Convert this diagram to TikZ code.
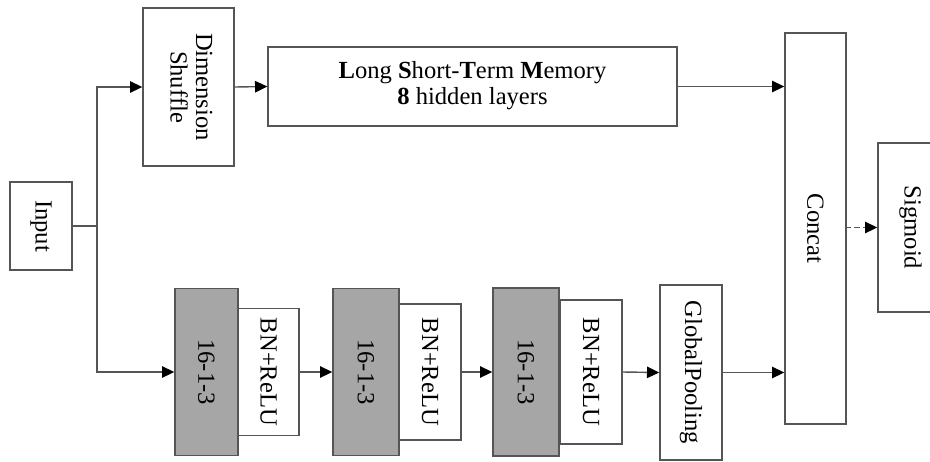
\documentclass[tikz,border=0pt]{standalone}
\usepackage{fontspec}
\setmainfont{Liberation Serif}
\usetikzlibrary{arrows.meta}

\definecolor{linegray}{HTML}{555555}
\definecolor{convgray}{HTML}{A6A6A6}

\begin{document}
\begin{tikzpicture}[x=0.02cm, y=-0.02cm,
		box/.style={draw=linegray, line width=0.8pt, fill=white, inner sep=0pt,
			font=\fontsize{14}{14.5}\selectfont},
		conv/.style={box, fill=convgray},
		arr/.style={draw=linegray, line width=0.8pt, -{Triangle[length=7pt, width=6.5pt, color=black]}}]
		\clip ( 0, 0 ) rectangle ( 930, 461 );

		% вход и перестановка осей
		\node [box, minimum width=1.24cm, minimum height=1.76cm] (in) at ( 41, 226 ) {\rotatebox{-90}{Input}};
		\node [box, minimum width=1.82cm, minimum height=3.16cm] (dim) at ( 188.5, 87 ) {\rotatebox{-90}{\begin{tabular}{c}Dimension\\Shuffle\end{tabular}}};
		\coordinate (split) at ( 97, 226 );

		% ветвь LSTM
		\node [box, minimum width=8.18cm, minimum height=1.58cm] (lstm) at ( 472.5, 86.5 ) {\begin{tabular}{c}\textbf{L}ong \textbf{S}hort-\textbf{T}erm \textbf{M}emory\\\textbf{8} hidden layers\end{tabular}};

		% свёрточная ветвь
		\node [conv, minimum width=1.26cm, minimum height=3.34cm] (c1) at ( 206.5, 372 ) {\rotatebox{-90}{16-1-3}};
		\node [box, minimum width=1.22cm, minimum height=2.54cm] (bn1) at ( 268.5, 372 ) {\rotatebox{-90}{BN+ReLU}};
		\node [conv, minimum width=1.32cm, minimum height=3.34cm] (c2) at ( 366, 372 ) {\rotatebox{-90}{16-1-3}};
		\node [box, minimum width=1.24cm, minimum height=2.72cm] (bn2) at ( 430, 372 ) {\rotatebox{-90}{BN+ReLU}};
		\node [conv, minimum width=1.32cm, minimum height=3.36cm] (c3) at ( 526, 372 ) {\rotatebox{-90}{16-1-3}};
		\node [box, minimum width=1.24cm, minimum height=2.88cm] (bn3) at ( 591, 372 ) {\rotatebox{-90}{BN+ReLU}};
		\node [box, minimum width=1.24cm, minimum height=3.5cm] (gp) at ( 691, 372.5 ) {\rotatebox{-90}{GlobalPooling}};

		% объединение и выход
		\node [box, minimum width=1.22cm, minimum height=7.82cm] (cc) at ( 815.5, 228.5 ) {\rotatebox{-90}{Concat}};
		\node [box, minimum width=1.3cm, minimum height=3.38cm] (sg) at ( 910.5, 227.5 ) {\rotatebox{-90}{Sigmoid}};

		% связи
		\draw [draw=linegray, line width=0.8pt] (in.east) -- (split);
		\draw [arr] (split) |- (dim.west);
		\draw [arr] (split) |- (c1.west);
		\draw [arr] (dim.east) -- (lstm.west);
		\draw [arr] (lstm.east) -- (lstm.east -| cc.west);
		\draw [arr] (bn1.east) -- (c2.west);
		\draw [arr] (bn2.east) -- (c3.west);
		\draw [arr] (bn3.east) -- (gp.west);
		\draw [arr] (gp.east) -- (gp.east -| cc.west);
		\draw [arr, densely dashed] (cc.east) -- (cc.east |- sg.west) -- (sg.west);
	\end{tikzpicture}
\end{document}
